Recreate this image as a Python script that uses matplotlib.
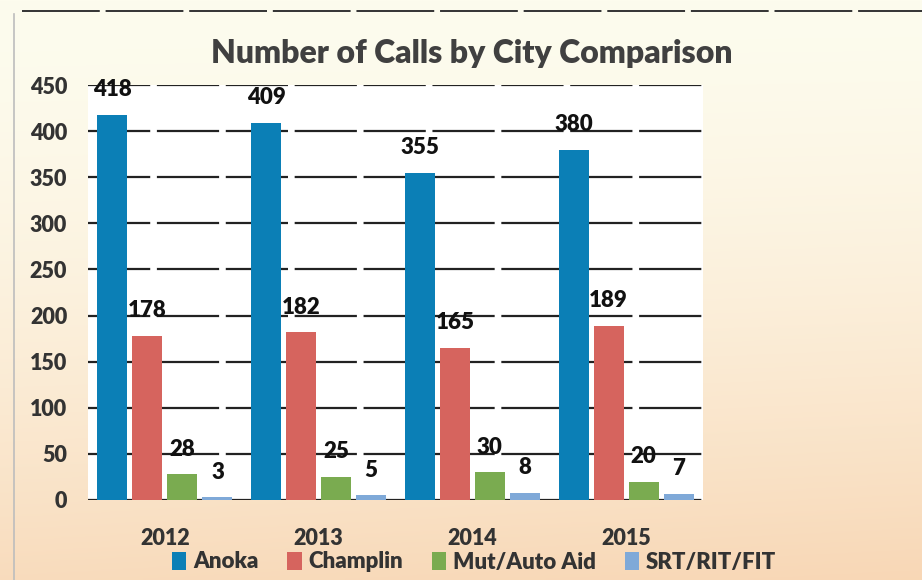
import matplotlib
matplotlib.use("Agg")
import matplotlib.pyplot as plt
import numpy as np
from matplotlib.patches import Patch
from matplotlib.lines import Line2D

years = ["2012", "2013", "2014", "2015"]
series = ["Anoka", "Champlin", "Mut/Auto Aid", "SRT/RIT/FIT"]
anoka = [418, 409, 355, 380]
champlin = [178, 182, 165, 189]
mut_auto = [28, 25, 30, 20]
srt = [3, 5, 8, 7]
y_ticks = [0, 50, 100, 150, 200, 250, 300, 350, 400, 450]

values = [anoka, champlin, mut_auto, srt]
colors = ["#0b7fb6", "#d6645e", "#7aab50", "#7fa9d8"]

plt.rcParams['font.family'] = ['Lato', 'DejaVu Sans']

W, H = 922, 580
fig = plt.figure(figsize=(W / 100, H / 100), dpi=100)

# background gradient
bg = fig.add_axes([0, 0, 1, 1], zorder=-10)
bg.set_axis_off()
ny, nx = 200, 200
yy, xx = np.mgrid[0:1:ny * 1j, 0:1:nx * 1j]
top = np.array([253, 252, 238]) / 255
bot = np.array([248, 214, 180]) / 255
t = np.clip(0.85 * yy ** 1.6 + 0.12 * xx * yy, 0, 1)
img = top[None, None, :] * (1 - t[..., None]) + bot[None, None, :] * t[..., None]
bg.imshow(img, extent=[0, 1, 0, 1], aspect='auto', origin='upper')
bg.set_xlim(0, 1)
bg.set_ylim(0, 1)
# scanned frame lines
bg.add_line(Line2D([22 / W, 1], [1 - 11 / H, 1 - 11 / H], color="#333333", lw=1.4, linestyle=(0, (40, 3))))
bg.add_line(Line2D([14 / W, 14 / W], [0, 1 - 14 / H], color="#bdbdbd", lw=1.2))

ax = fig.add_axes([88 / W, (H - 500) / H, (703 - 88) / W, (500 - 85) / H])
ax.set_facecolor("white")

x = np.arange(len(years))
bw = 0.195
step = 0.228
for i, (vals, c, name) in enumerate(zip(values, colors, series)):
    pos = x + (i - 1.5) * step
    bars = ax.bar(pos, vals, width=bw, color=c, label=name, zorder=3)
    for b, v in zip(bars, vals):
        ax.annotate(str(v), (b.get_x() + b.get_width() / 2, v), xytext=(0, 18),
                    textcoords="offset points", ha="center", va="center",
                    fontsize=16, fontweight="heavy", color="#111111", zorder=5)

ax.set_xlim(-0.5, 3.5)
ax.set_ylim(0, 450)
ax.set_yticks(y_ticks)
ax.set_yticklabels([str(v) for v in y_ticks])
ax.set_xticks(x)
ax.set_xticklabels(years)
ax.yaxis.grid(True, color="#222222", lw=1.6, linestyle=(0, (28, 3)), zorder=0)
ax.set_axisbelow(True)
for s in ax.spines.values():
    s.set_visible(False)
ax.tick_params(axis="both", length=0)
ax.tick_params(axis="y", pad=15, labelsize=15.5, labelcolor="#333333")
ax.tick_params(axis="x", pad=20, labelsize=15.5, labelcolor="#333333")
for lab in ax.get_xticklabels() + ax.get_yticklabels():
    lab.set_fontweight("heavy")

fig.text(472 / W, 1 - 53 / H, "Number of Calls by City Comparison", ha="center", va="center",
         fontsize=23, fontweight="heavy", color="#404040")

handles = [Patch(facecolor=c, edgecolor="none") for c in colors]
leg = fig.legend(handles, series, loc="center", bbox_to_anchor=(474 / W, 1 - 562 / H), ncol=4,
                 frameon=False, fontsize=16, handlelength=0.65, handleheight=0.9,
                 handletextpad=0.3, columnspacing=1.3, borderpad=0)
for tx in leg.get_texts():
    tx.set_fontweight("heavy")
    tx.set_color("#333333")

fig.savefig("out.png", dpi=100)
